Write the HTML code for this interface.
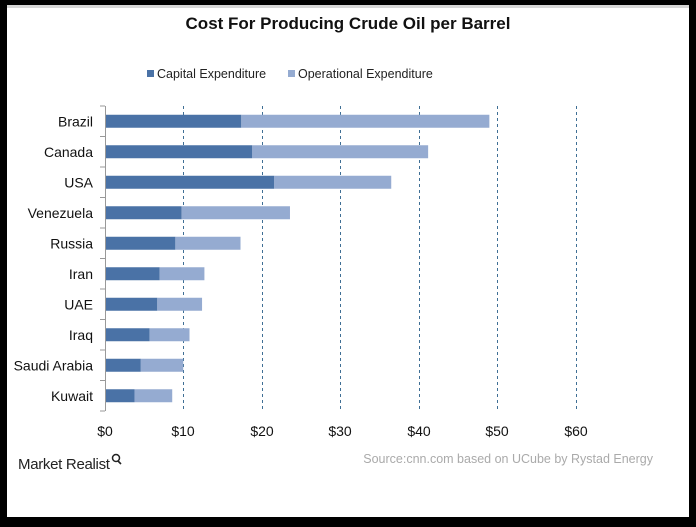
<!DOCTYPE html>
<html><head><meta charset="utf-8"><style>
body{margin:0;background:#000;}
#c{position:absolute;left:7px;top:5px;width:682px;height:512px;background:#fff;border-top:3px solid #d6d6d6;box-sizing:border-box}
</style></head><body>
<div style="position:relative;width:696px;height:527px;overflow:hidden;background:#000">
<div id="c"></div>
<svg width="696" height="527" style="position:absolute;left:0;top:0" font-family="Liberation Sans, Arial, sans-serif">
<text x="348" y="29" text-anchor="middle" font-size="17" font-weight="bold" fill="#111">Cost For Producing Crude Oil per Barrel</text>
<rect x="147" y="70" width="7" height="7" fill="#4a72a6"/>
<text x="157" y="78" font-size="12.5" fill="#222">Capital Expenditure</text>
<rect x="288" y="70" width="7" height="7" fill="#95abd1"/>
<text x="298" y="78" font-size="12.5" fill="#222">Operational Expenditure</text>
<g stroke="#3f6f95" stroke-width="1" stroke-dasharray="3,3">
<line x1="183.5" y1="106" x2="183.5" y2="411"/><line x1="262.5" y1="106" x2="262.5" y2="411"/>
<line x1="340.5" y1="106" x2="340.5" y2="411"/><line x1="419.5" y1="106" x2="419.5" y2="411"/>
<line x1="497.5" y1="106" x2="497.5" y2="411"/><line x1="576.5" y1="106" x2="576.5" y2="411"/>
</g>
<g id="bars"></g>
<line x1="105.5" y1="106" x2="105.5" y2="411" stroke="#999"/>
<g stroke="#999" id="ticks"></g>
<g font-size="14" fill="#111" text-anchor="end" id="labels"></g>
<g font-size="14" fill="#111" text-anchor="middle">
<text x="105" y="436">$0</text><text x="183" y="436">$10</text><text x="262" y="436">$20</text><text x="340" y="436">$30</text><text x="419" y="436">$40</text><text x="497" y="436">$50</text><text x="576" y="436">$60</text>
</g>
<text x="18" y="469" font-size="15" fill="#222" letter-spacing="-0.3">Market Realist</text>
<circle cx="116" cy="458" r="3.5" fill="none" stroke="#222" stroke-width="1.5"/><line x1="118" y1="461" x2="121" y2="464" stroke="#222" stroke-width="1.6"/>
<text x="653" y="463" text-anchor="end" font-size="12.5" fill="#aaa">Source:cnn.com based on UCube by Rystad Energy</text>
</svg>
<script>
var d=[["Brazil",17.3,48.9],["Canada",18.7,41.1],["USA",21.5,36.4],["Venezuela",9.7,23.5],["Russia",8.9,17.2],["Iran",6.9,12.6],["UAE",6.6,12.3],["Iraq",5.6,10.7],["Saudi Arabia",4.5,9.9],["Kuwait",3.7,8.5]];
var s=7.85,x0=105.5,b="",t="",l="";
d.forEach(function(r,i){var c=106+30.5*i+15.25;
b+='<rect x="'+x0+'" y="'+(c-6.5)+'" width="'+(r[1]*s)+'" height="13" fill="#4a72a6"/>';
b+='<rect x="'+(x0+r[1]*s)+'" y="'+(c-6.5)+'" width="'+((r[2]-r[1])*s)+'" height="13" fill="#95abd1"/>';
l+='<text x="93" y="'+(c+5)+'">'+r[0]+'</text>';});
for(var i=0;i<=10;i++){var y=106+30.5*i;t+='<line x1="100" y1="'+y+'" x2="105" y2="'+y+'"/>';}
document.getElementById("bars").innerHTML=b;document.getElementById("ticks").innerHTML=t;document.getElementById("labels").innerHTML=l;
</script>
</div></body></html>
